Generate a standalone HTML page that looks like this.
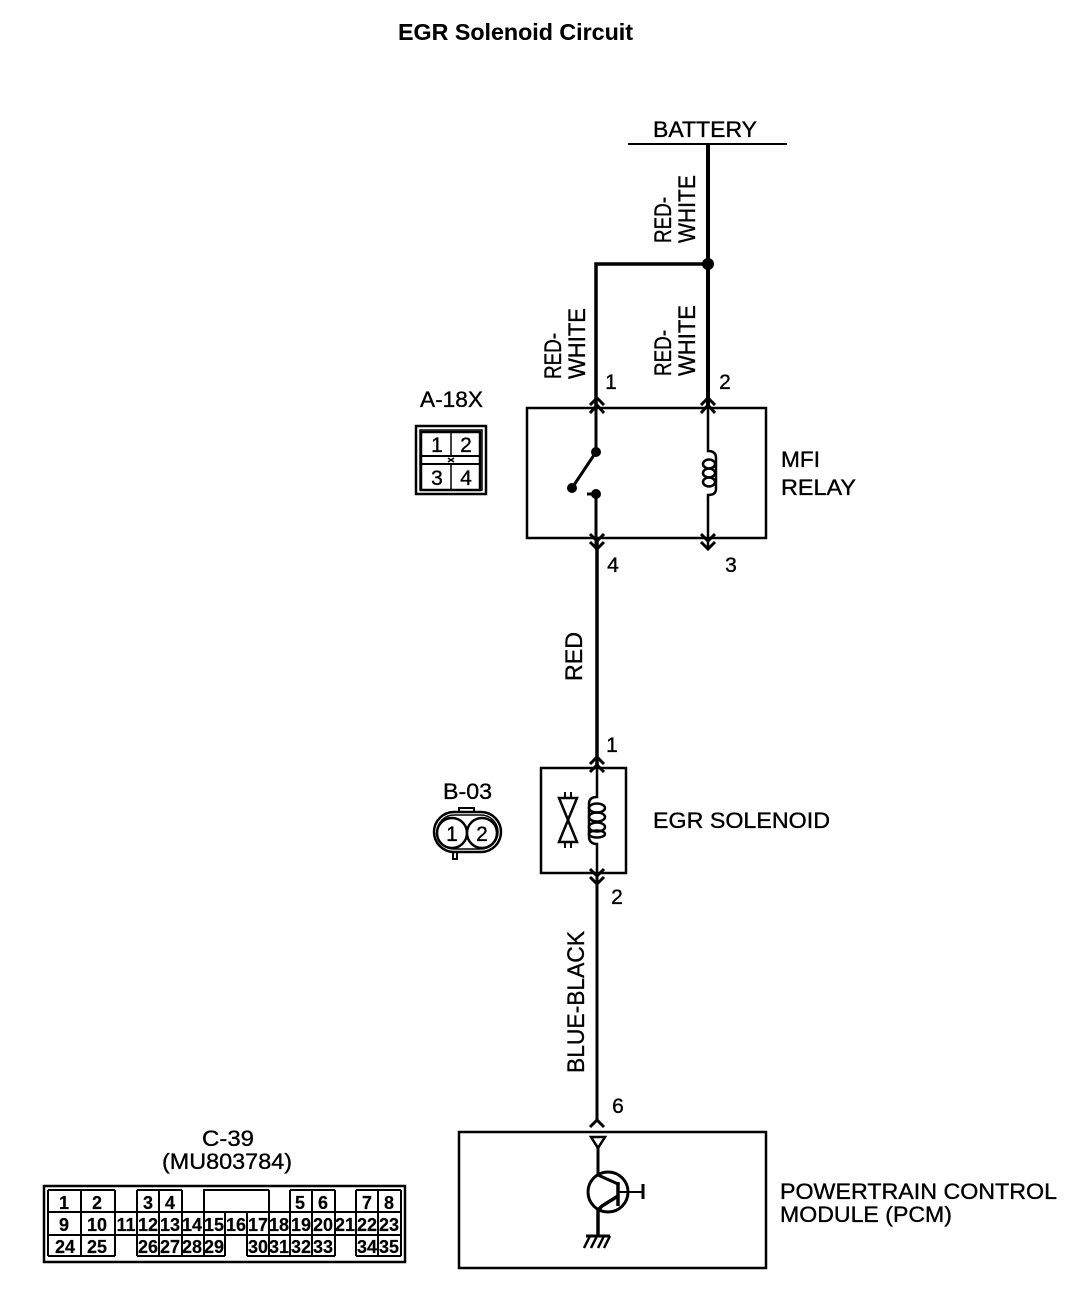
<!DOCTYPE html>
<html>
<head>
<meta charset="utf-8">
<style>
html,body{margin:0;padding:0;background:#fff}
svg{display:block}
text{font-family:"Liberation Sans",sans-serif;font-size:22px;fill:#000;stroke:#000;stroke-width:.35px}
.c{font-size:18px;font-weight:bold;text-anchor:middle;stroke-width:.2px}
.n{font-size:21px;text-anchor:middle}
.v{font-size:24px}
</style>
</head>
<body>
<svg width="1088" height="1310" viewBox="0 0 1088 1310" xmlns="http://www.w3.org/2000/svg">
<rect width="1088" height="1310" fill="#fff"/>
<text x="398" y="40" textLength="235" lengthAdjust="spacingAndGlyphs" style="font-weight:bold;font-size:23px;stroke-width:.1px">EGR Solenoid Circuit</text>

<!-- battery & wires -->
<text x="653" y="137" textLength="104" lengthAdjust="spacingAndGlyphs">BATTERY</text>
<g fill="none" stroke="#000">
<path d="M628 144H787" stroke-width="2"/>
<path d="M708 144V408" stroke-width="4"/>
<path d="M708 264H596V408" stroke-width="3.5"/>
<path d="M597 538V768" stroke-width="3.5"/>
<path d="M597 873V1122" stroke-width="3"/>
</g>
<circle cx="708" cy="264" r="6"/>

<!-- wire labels -->
<g transform="translate(671,243) rotate(-90)"><text class="v" x="0" y="0" textLength="46" lengthAdjust="spacingAndGlyphs">RED-</text></g>
<g transform="translate(695,243) rotate(-90)"><text class="v" x="0" y="0" textLength="68" lengthAdjust="spacingAndGlyphs">WHITE</text></g>
<g transform="translate(561,379) rotate(-90)"><text class="v" x="0" y="0" textLength="46" lengthAdjust="spacingAndGlyphs">RED-</text></g>
<g transform="translate(585,379) rotate(-90)"><text class="v" x="0" y="0" textLength="71" lengthAdjust="spacingAndGlyphs">WHITE</text></g>
<g transform="translate(671,376) rotate(-90)"><text class="v" x="0" y="0" textLength="46" lengthAdjust="spacingAndGlyphs">RED-</text></g>
<g transform="translate(695,376) rotate(-90)"><text class="v" x="0" y="0" textLength="71" lengthAdjust="spacingAndGlyphs">WHITE</text></g>
<g transform="translate(582,681) rotate(-90)"><text class="v" x="0" y="0" textLength="49" lengthAdjust="spacingAndGlyphs">RED</text></g>
<g transform="translate(584,1073) rotate(-90)"><text class="v" x="0" y="0" textLength="142" lengthAdjust="spacingAndGlyphs">BLUE-BLACK</text></g>

<!-- relay -->
<rect x="527" y="408" width="239" height="130" fill="none" stroke="#000" stroke-width="2.5"/>
<g fill="none" stroke="#000" stroke-width="3">
<path d="M590 405L597 398L604 405M590 413L597 405L604 413"/>
<path d="M701 405L708 398L715 405M701 413L708 405L715 413"/>
<path d="M590 534L597 541L604 534M590 542L597 549L604 542"/>
<path d="M701 534L708 541L715 534M701 542L708 549L715 542"/>
<path d="M596 408V452M596 495V549"/>
<path d="M708 408V451Q716 451 716 458V489Q716 495 708 495V549" stroke-width="2.5"/>
<path d="M572 488L596 452" stroke-width="3"/>
<path d="M587 494H596"/>
<ellipse cx="709" cy="464" rx="6" ry="4.5" stroke-width="2.5"/>
<ellipse cx="709" cy="473" rx="6" ry="4.5" stroke-width="2.5"/>
<ellipse cx="709" cy="482" rx="6" ry="4.5" stroke-width="2.5"/>
</g>
<circle cx="596" cy="452" r="5"/><circle cx="572" cy="488" r="5"/><circle cx="596" cy="494" r="5"/>
<text class="n" x="611" y="389">1</text>
<text class="n" x="725" y="389">2</text>
<text class="n" x="613" y="572">4</text>
<text class="n" x="731" y="572">3</text>
<text x="781" y="467" textLength="39" lengthAdjust="spacingAndGlyphs">MFI</text>
<text x="781" y="495" textLength="75" lengthAdjust="spacingAndGlyphs">RELAY</text>

<!-- A-18X -->
<text x="420" y="407" textLength="63" lengthAdjust="spacingAndGlyphs">A-18X</text>
<g fill="none" stroke="#000">
<rect x="416" y="426" width="70" height="68" stroke-width="2.5"/>
<rect x="420" y="430" width="62" height="60" stroke-width="1.5"/>
<path d="M421 432H480V490H421Z" stroke-width="2.5"/>
<path d="M421 456H481M421 464H481" stroke-width="2"/>
<path d="M451 432V456M451 464V489" stroke-width="1.5"/>
<path d="M448 458L454 462M454 458L448 462" stroke-width="1.5"/>
</g>
<text class="n" x="437" y="452">1</text>
<text class="n" x="466" y="452">2</text>
<text class="n" x="437" y="485">3</text>
<text class="n" x="466" y="485">4</text>

<!-- solenoid -->
<rect x="541" y="768" width="85" height="105" fill="none" stroke="#000" stroke-width="2.5"/>
<g fill="none" stroke="#000" stroke-width="3">
<path d="M590 764L597 757L604 764M590 772L597 765L604 772"/>
<path d="M590 869L597 876L604 869M590 877L597 884L604 877"/>
<path d="M597 768V797Q589 797 589 804V836Q589 844 597 844V873" stroke-width="2.5"/>
<path d="M559 798H577L559 842H577Z" stroke-width="2.5"/>
<path d="M565 792V798M571 792V798M565 842V848M571 842V848" stroke-width="2"/>
<ellipse cx="597" cy="808" rx="8" ry="4.5" stroke-width="2.5"/>
<ellipse cx="597" cy="817" rx="8" ry="4.5" stroke-width="2.5"/>
<ellipse cx="597" cy="827" rx="8" ry="4.5" stroke-width="2.5"/>
<ellipse cx="597" cy="834" rx="8" ry="3.5" stroke-width="2.5"/>
</g>
<text class="n" x="612" y="752">1</text>
<text class="n" x="617" y="904">2</text>
<text x="653" y="828" textLength="177" lengthAdjust="spacingAndGlyphs">EGR SOLENOID</text>

<!-- B-03 -->
<text x="443" y="799" textLength="49" lengthAdjust="spacingAndGlyphs">B-03</text>
<g fill="none" stroke="#000">
<rect x="434" y="812" width="67" height="40" rx="20" ry="20" stroke-width="2.5"/>
<rect x="437" y="815" width="61" height="34" rx="17" ry="17" stroke-width="1.5"/>
<path d="M459 811V808H474V811" stroke-width="2"/>
<path d="M453 853V859H457V853" stroke-width="2"/>
<circle cx="452" cy="833" r="15" stroke-width="2.5" fill="#fff"/>
<circle cx="482" cy="833" r="15" stroke-width="2.5" fill="#fff"/>
</g>
<text class="n" x="452" y="841">1</text>
<text class="n" x="482" y="841">2</text>

<!-- PCM -->
<rect x="459" y="1132" width="307" height="136" fill="none" stroke="#000" stroke-width="2.5"/>
<g fill="none" stroke="#000" stroke-width="2.5">
<path d="M590 1127L597 1120L604 1127" stroke-width="3"/>
<path d="M591 1137H605L598 1148Z"/>
<path d="M598 1148V1175L618 1184" stroke-width="3"/>
<path d="M618 1182V1206" stroke-width="3.5"/>
<path d="M618 1196L602 1206L598 1210V1236" stroke-width="3.5"/>
<path d="M618 1192H643" stroke-width="2"/>
<path d="M643 1184V1199" stroke-width="3"/>
<circle cx="608" cy="1192" r="20" stroke-width="3"/>
<path d="M586 1236H610" stroke-width="3"/>
<path d="M590 1236L584 1248M597 1236L591 1248M604 1236L598 1248M610 1236L604 1248" stroke-width="2.5"/>
</g>
<text class="n" x="618" y="1113">6</text>
<text x="780" y="1199" textLength="277" lengthAdjust="spacingAndGlyphs">POWERTRAIN CONTROL</text>
<text x="780" y="1222" textLength="172" lengthAdjust="spacingAndGlyphs">MODULE (PCM)</text>

<!-- C-39 -->
<text x="202" y="1146" textLength="52" lengthAdjust="spacingAndGlyphs">C-39</text>
<text x="162" y="1169" textLength="130" lengthAdjust="spacingAndGlyphs">(MU803784)</text>
<g fill="none" stroke="#000">
<rect x="44" y="1186" width="361" height="76" stroke-width="2.5"/>
<g stroke-width="2">
<path d="M48 1190H115M137 1190H182M203 1190H269M290 1190H335M356 1190H401"/>
<path d="M48 1212H401M48 1235H401"/>
<path d="M48 1256H115M137 1256H225M247 1256H335M356 1256H401"/>
<path d="M48 1190V1256M81 1190V1256M115 1190V1256M137 1190V1256M159 1190V1256M182 1190V1256M204 1190V1256"/>
<path d="M225 1212V1256M247 1212V1256M269 1190V1256M290 1190V1256M312 1190V1256M335 1190V1256M356 1190V1256M378 1190V1256M401 1190V1256"/>
</g>
</g>
<g>
<text class="c" x="64" y="1209">1</text><text class="c" x="97" y="1209">2</text>
<text class="c" x="148" y="1209">3</text><text class="c" x="170" y="1209">4</text>
<text class="c" x="300" y="1209">5</text><text class="c" x="323" y="1209">6</text>
<text class="c" x="367" y="1209">7</text><text class="c" x="389" y="1209">8</text>
<text class="c" x="64" y="1231">9</text><text class="c" x="97" y="1231">10</text>
<text class="c" x="126" y="1231">11</text><text class="c" x="148" y="1231">12</text>
<text class="c" x="170" y="1231">13</text><text class="c" x="192" y="1231">14</text>
<text class="c" x="214" y="1231">15</text><text class="c" x="236" y="1231">16</text>
<text class="c" x="258" y="1231">17</text><text class="c" x="279" y="1231">18</text>
<text class="c" x="301" y="1231">19</text><text class="c" x="323" y="1231">20</text>
<text class="c" x="345" y="1231">21</text><text class="c" x="367" y="1231">22</text>
<text class="c" x="389" y="1231">23</text>
<text class="c" x="65" y="1253">24</text><text class="c" x="97" y="1253">25</text>
<text class="c" x="148" y="1253">26</text><text class="c" x="170" y="1253">27</text>
<text class="c" x="192" y="1253">28</text><text class="c" x="214" y="1253">29</text>
<text class="c" x="258" y="1253">30</text><text class="c" x="279" y="1253">31</text>
<text class="c" x="301" y="1253">32</text><text class="c" x="323" y="1253">33</text>
<text class="c" x="367" y="1253">34</text><text class="c" x="389" y="1253">35</text>
</g>
</svg>
</body>
</html>
